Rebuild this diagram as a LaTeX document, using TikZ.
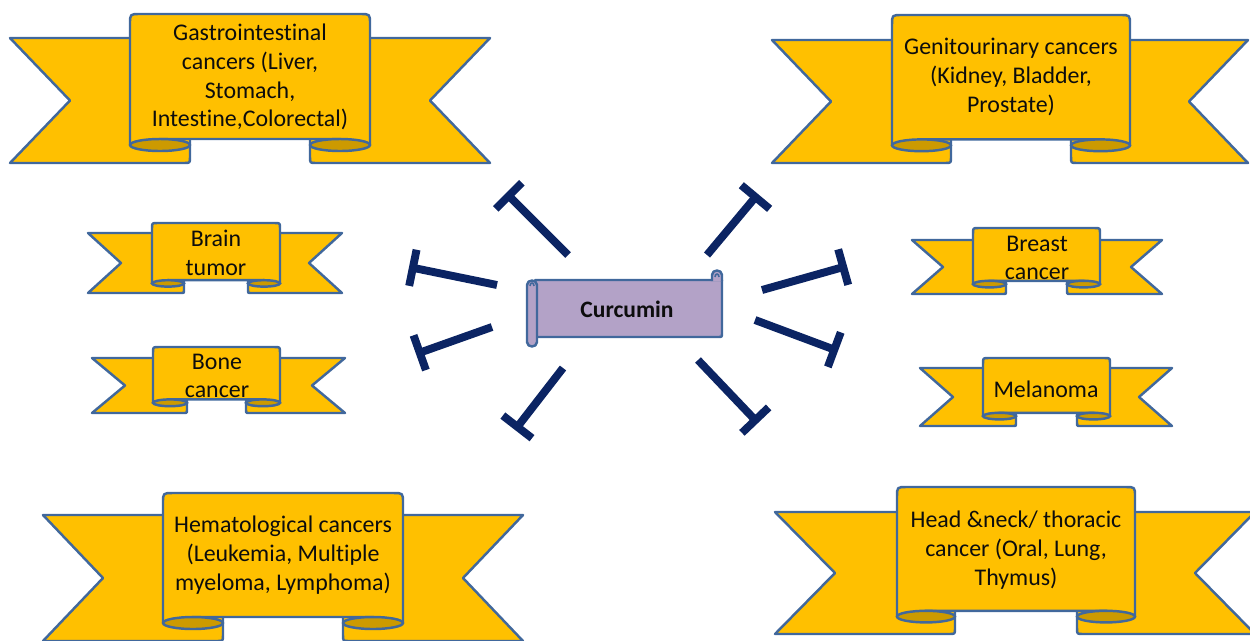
\documentclass[tikz,border=0pt]{standalone}
\usepackage{fontspec}
\setmainfont{Carlito}[Ligatures=NoCommon]
\usetikzlibrary{arrows.meta}
\definecolor{gold}{HTML}{FFC000}
\definecolor{golddark}{HTML}{CC9A00}
\definecolor{edgeblue}{HTML}{41689C}
\definecolor{navy}{HTML}{0B2463}
\definecolor{lilac}{HTML}{B3A2C7}
\tikzset{
  rib/.style={fill=gold, draw=edgeblue, line width=1.4pt, line join=round},
  ribdark/.style={fill=golddark, draw=edgeblue, line width=1.4pt},
  ribtext/.style={align=center, font=\fontsize{13.6}{16.4}\selectfont, text=black!95, inner sep=0pt},
  inhibit/.style={draw=navy, line width=4.5pt, -{Bar[width=21pt]}},
  scrollbox/.style={fill=lilac, draw=edgeblue, line width=1.4pt, line join=round}
}
% #1 L, #2 R, #3 tail top, #4 bottom, #5 notch depth, #6 panel left, #7 panel right, #8 panel top, #9 fold width
\newcommand\ribbon[9]{%
  \pgfmathsetmacro\rmid{(#3+#4)/2}%
  \pgfmathsetmacro\ryc{#4-0.3*#9}%
  \pgfmathsetmacro\rry{#9/10}%
  \pgfmathsetmacro\rrx{#9*0.01}%
  \pgfmathsetmacro\rryc{#9*0.002}%
  \pgfmathsetmacro\rlf{#6+#9}%
  \pgfmathsetmacro\rrf{#7-#9}%
  \pgfmathsetmacro\rlc{#6+#9/2}%
  \pgfmathsetmacro\rrc{#7-#9/2}%
  \pgfmathsetmacro\rtop{\ryc-\rry}%
  \pgfmathsetmacro\rcp{#9/6}%
  \pgfmathsetmacro\rcf{#9/10}%
  \draw[rib] (#1,#3) -- (\rlf,#3) -- (\rlf,{#4-\rcf}) .. controls (\rlf,#4) .. ({\rlf-\rcf},#4) -- (#1,#4) -- ({#1+#5},\rmid) -- cycle;
  \draw[rib] (#2,#3) -- (\rrf,#3) -- (\rrf,{#4-\rcf}) .. controls (\rrf,#4) .. ({\rrf+\rcf},#4) -- (#2,#4) -- ({#2-#5},\rmid) -- cycle;
  \draw[rib] (#6,\ryc) -- (#6,{#8+\rcp}) .. controls (#6,#8) .. ({#6+\rcp},#8) -- ({#7-\rcp},#8) .. controls (#7,#8) .. (#7,{#8+\rcp}) -- (#7,\ryc) -- (\rrc,\rtop) -- (\rlc,\rtop) -- cycle;
  \draw[ribdark] (\rlc,\ryc) ellipse [x radius=\rrx cm, y radius=\rryc cm];
  \draw[ribdark] (\rrc,\ryc) ellipse [x radius=\rrx cm, y radius=\rryc cm];
}
\begin{document}
\begin{tikzpicture}[x=0.02cm, y=-0.02cm]
\useasboundingbox (0,0) rectangle (1250,640);
\clip (0,0) rectangle (1250,640);

% ribbons
\ribbon{10}{490}{38}{163}{60}{130}{370}{14}{60}
\node[ribtext] (gi) at (250,77) {Gastrointestinal\\cancers (Liver,\\Stomach,\\Intestine,Colorectal)};

\ribbon{772}{1248}{40}{163}{59}{892}{1130}{15}{59}
\node[ribtext] (gu) at (1011,77) {Genitourinary cancers\\(Kidney, Bladder,\\Prostate)};

\ribbon{88}{342}{233}{293}{33}{152}{280}{223}{32}
\node[ribtext] (brain) at (216,253) {Brain\\tumor};

\ribbon{92}{345}{358}{413}{33}{153}{280}{347}{34}
\node[ribtext] (bone) at (217,376) {Bone\\cancer};

\ribbon{912}{1162}{240}{294}{31}{973}{1100}{228}{33}
\node[ribtext] (breast) at (1037,258) {Breast\\cancer};

\ribbon{920}{1172}{368}{426}{33}{983}{1110}{358}{33}
\node[ribtext] (mel) at (1046,389) {Melanoma};

\ribbon{43}{523}{515}{641}{60}{163}{403}{493}{60}
\node[ribtext] (hema) at (283,555) {Hematological cancers\\(Leukemia, Multiple\\myeloma, Lymphoma)};

\ribbon{775}{1255}{512}{634}{60}{897}{1135}{487}{58}
\node[ribtext] (head) at (1016,550) {Head \&neck/ thoracic\\cancer (Oral, Lung,\\Thymus)};

% curcumin scroll
\draw[scrollbox] (535,280) -- (712,280) -- (722,280) -- (722,333) .. controls (722,337) .. (718,337) -- (535,337) -- cycle;
\draw[scrollbox] (712,281) -- (712,275) .. controls (712,269) and (722,269) .. (722,275) -- (722,281);
\draw[edgeblue, line width=0.9pt] (715,277) .. controls (715,273) and (719,273) .. (719,277);
\draw[scrollbox] (527,285) .. controls (527,279) and (537,279) .. (537,285) -- (537,342) .. controls (537,348) and (527,348) .. (527,342) -- cycle;
\draw[edgeblue, line width=0.9pt] (530,286) .. controls (530,282) and (534,282) .. (534,286);
\node[font=\fontsize{13.4}{16}\selectfont\bfseries, text=black!95, inner sep=0pt] (cur) at (627,309) {Curcumin};

% inhibition connectors
\coordinate (s1) at (568,255); \coordinate (e1) at (506,193);
\coordinate (s2) at (497,285); \coordinate (e2) at (409,267);
\coordinate (s3) at (492,327); \coordinate (e3) at (416,354);
\coordinate (s4) at (563,368); \coordinate (e4) at (515,430);
\coordinate (s5) at (707,255); \coordinate (e5) at (758,194);
\coordinate (s6) at (762,290); \coordinate (e6) at (847,266);
\coordinate (s7) at (755,320); \coordinate (e7) at (838,351);
\coordinate (s8) at (698,360); \coordinate (e8) at (758,423);
\foreach \i in {1,...,8} { \draw[inhibit] (s\i) -- (e\i); }
\end{tikzpicture}
\end{document}
